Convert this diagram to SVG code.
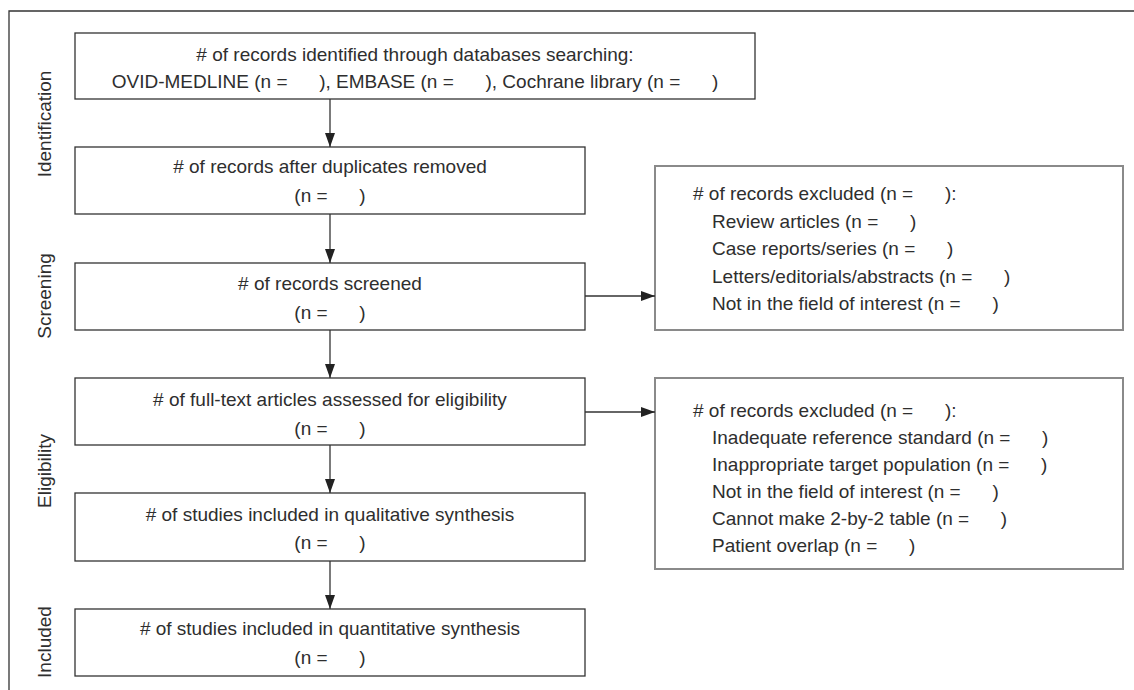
<svg xmlns="http://www.w3.org/2000/svg" width="1134" height="690" viewBox="0 0 1134 690">
<style>
text{font-family:"Liberation Sans",Arial,sans-serif;font-size:19px;fill:#2e2e2e;white-space:pre}
.c{text-anchor:middle}
.box{fill:#fff;stroke:#333;stroke-width:1.3}
.rbox{fill:#fff;stroke:#8a8a8a;stroke-width:2}
.frame{fill:none;stroke:#333;stroke-width:1.3}
.conn line{stroke:#333;stroke-width:1.3}
</style>
<defs>
<marker id="ah" markerWidth="14" markerHeight="10" refX="14" refY="5" orient="auto" markerUnits="userSpaceOnUse">
<path d="M0,0 L14,5 L0,10 Z" fill="#222"/>
</marker>
</defs>
<rect width="1134" height="690" fill="#fff"/>
<path class="frame" d="M9,690 V11 H1134"/>
<g id="stages">
<text transform="translate(51,124) rotate(-90)" class="c">Identification</text>
<text transform="translate(51,296) rotate(-90)" class="c">Screening</text>
<text transform="translate(51,471) rotate(-90)" class="c">Eligibility</text>
<text transform="translate(51,642) rotate(-90)" class="c">Included</text>
</g>
<g id="identified">
<rect class="box" x="75" y="33" width="680" height="66"/>
<text x="415" y="61" class="c"># of records identified through databases searching:</text>
<text x="415" y="88" class="c">OVID-MEDLINE (n =      ), EMBASE (n =      ), Cochrane library (n =      )</text>
</g>
<g id="duplicates">
<rect class="box" x="75" y="147" width="510" height="67"/>
<text x="330" y="173" class="c"># of records after duplicates removed</text>
<text x="330" y="202" class="c">(n =      )</text>
</g>
<g id="screened">
<rect class="box" x="75" y="263" width="510" height="67"/>
<text x="330" y="290" class="c"># of records screened</text>
<text x="330" y="319" class="c">(n =      )</text>
</g>
<g id="fulltext">
<rect class="box" x="75" y="378" width="510" height="67"/>
<text x="330" y="406" class="c"># of full-text articles assessed for eligibility</text>
<text x="330" y="435" class="c">(n =      )</text>
</g>
<g id="qualitative">
<rect class="box" x="75" y="493" width="510" height="68"/>
<text x="330" y="521" class="c"># of studies included in qualitative synthesis</text>
<text x="330" y="549" class="c">(n =      )</text>
</g>
<g id="quantitative">
<rect class="box" x="75" y="609" width="510" height="67"/>
<text x="330" y="635" class="c"># of studies included in quantitative synthesis</text>
<text x="330" y="664" class="c">(n =      )</text>
</g>
<g id="excluded1">
<rect class="rbox" x="655" y="166" width="468" height="164"/>
<text x="693" y="200"># of records excluded (n =      ):</text>
<text x="712" y="227.5">Review articles (n =      )</text>
<text x="712" y="255">Case reports/series (n =      )</text>
<text x="712" y="282.5">Letters/editorials/abstracts (n =      )</text>
<text x="712" y="310">Not in the field of interest (n =      )</text>
</g>
<g id="excluded2">
<rect class="rbox" x="655" y="378" width="468" height="191"/>
<text x="693" y="417"># of records excluded (n =      ):</text>
<text x="712" y="444">Inadequate reference standard (n =      )</text>
<text x="712" y="471">Inappropriate target population (n =      )</text>
<text x="712" y="498">Not in the field of interest (n =      )</text>
<text x="712" y="525">Cannot make 2-by-2 table (n =      )</text>
<text x="712" y="552">Patient overlap (n =      )</text>
</g>
<g id="connectors" class="conn">
<line x1="330" y1="99" x2="330" y2="147" marker-end="url(#ah)"/>
<line x1="330" y1="214" x2="330" y2="263" marker-end="url(#ah)"/>
<line x1="330" y1="330" x2="330" y2="378" marker-end="url(#ah)"/>
<line x1="330" y1="445" x2="330" y2="493" marker-end="url(#ah)"/>
<line x1="330" y1="561" x2="330" y2="609" marker-end="url(#ah)"/>
<line x1="585" y1="296" x2="655" y2="296" marker-end="url(#ah)"/>
<line x1="585" y1="412" x2="655" y2="412" marker-end="url(#ah)"/>
</g>
</svg>
